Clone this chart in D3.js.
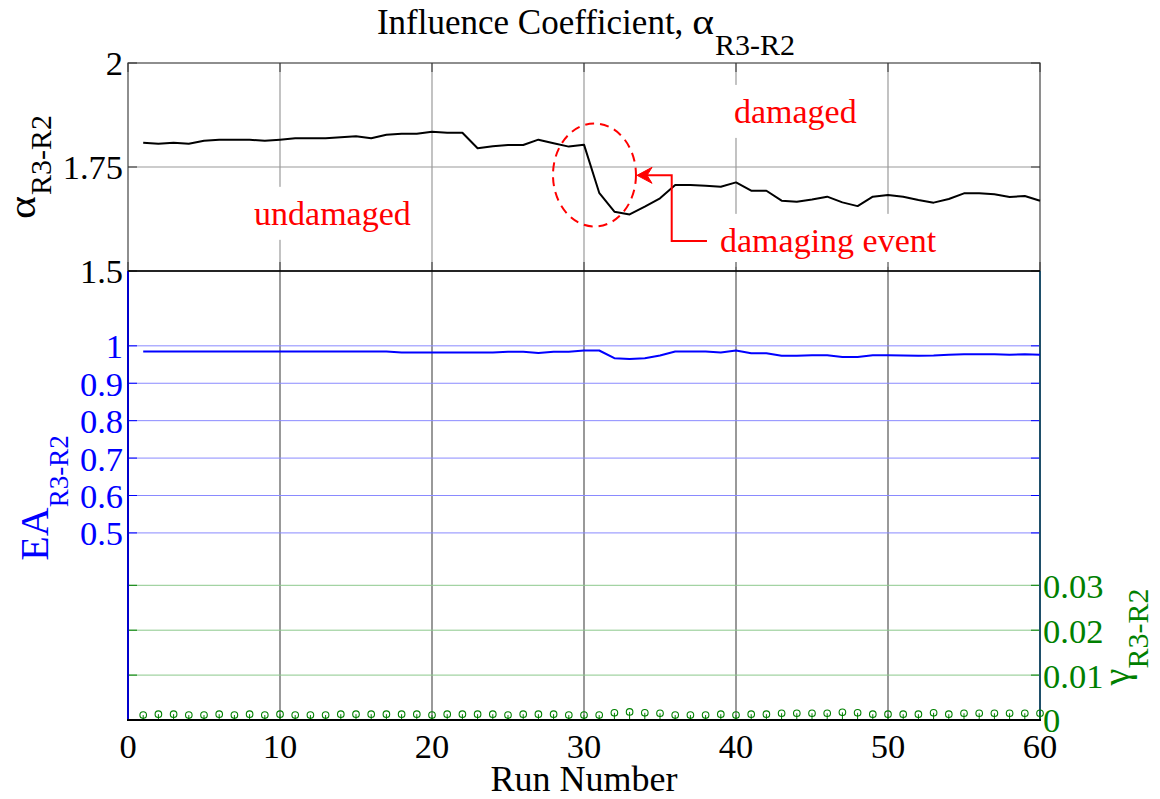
<!DOCTYPE html>
<html>
<head>
<meta charset="utf-8">
<script src="https://cdn.jsdelivr.net/npm/d3@7"></script>
<style>
  html, body { margin: 0; padding: 0; background: #fff; }
  svg { display: block; }
  text { font-family: "Liberation Serif", "Times New Roman", serif; }
</style>
</head>
<body>
<svg id="chart" width="1160" height="799"></svg>
<script>
// Run numbers 1..60
const runs = d3.range(1, 61);

// Influence coefficient alpha (R3-R2) per run
const alphaValues = [
  1.8085, 1.806, 1.8085, 1.806, 1.813, 1.8157, 1.8157, 1.8157, 1.813, 1.8157,
  1.819, 1.819, 1.819, 1.8213, 1.8237, 1.819, 1.8277, 1.830, 1.830, 1.835,
  1.8325, 1.8325, 1.795, 1.800, 1.803, 1.803, 1.8157, 1.807, 1.799, 1.8037,
  1.688, 1.6426, 1.636, 1.6546, 1.6746, 1.7067, 1.7067, 1.705, 1.7027, 1.713,
  1.693, 1.693, 1.669, 1.6667, 1.672, 1.6787, 1.665, 1.656, 1.6787, 1.6827,
  1.6787, 1.6707, 1.6643, 1.673, 1.6867, 1.6867, 1.6843, 1.678, 1.6803, 1.669
];

// EA (R3-R2) per run
const eaValues = [
  0.985, 0.985, 0.985, 0.985, 0.985, 0.985, 0.985, 0.985, 0.985, 0.985,
  0.985, 0.985, 0.985, 0.985, 0.985, 0.985, 0.985, 0.982, 0.982, 0.982,
  0.982, 0.982, 0.982, 0.982, 0.984, 0.984, 0.981, 0.984, 0.984, 0.9875,
  0.9875, 0.967, 0.9645, 0.967, 0.974, 0.985, 0.985, 0.985, 0.982, 0.9875,
  0.980, 0.980, 0.9735, 0.9735, 0.975, 0.975, 0.970, 0.970, 0.975, 0.975,
  0.974, 0.9735, 0.974, 0.976, 0.9775, 0.9775, 0.9775, 0.976, 0.9775, 0.976
];

// gamma (R3-R2) per run
const gammaValues = [
  0.0011, 0.0013, 0.0013, 0.0011, 0.0011, 0.0013, 0.0011, 0.0013, 0.0011, 0.0013,
  0.0011, 0.0011, 0.0011, 0.0013, 0.0013, 0.0013, 0.0013, 0.0013, 0.0013, 0.0011,
  0.0013, 0.0013, 0.0013, 0.0013, 0.0011, 0.0013, 0.0013, 0.0013, 0.0011, 0.0011,
  0.0011, 0.0016, 0.0018, 0.0016, 0.0015, 0.0011, 0.0011, 0.0011, 0.0013, 0.0011,
  0.0013, 0.0013, 0.0015, 0.0015, 0.0015, 0.0015, 0.0017, 0.0016, 0.0013, 0.0013,
  0.0013, 0.0013, 0.0016, 0.0013, 0.0015, 0.0015, 0.0015, 0.0015, 0.0015, 0.0015
];

// Tick labels
const xTicks = [0, 10, 20, 30, 40, 50, 60];
const alphaTicks = [1.5, 1.75, 2];
const eaTicks = [0.5, 0.6, 0.7, 0.8, 0.9, 1];
const gammaTicks = [0, 0.01, 0.02, 0.03];

const svg = d3.select("#chart");
const L = 128, R = 1040;
const topY0 = 63, midY = 271, botY = 720;

const x = d3.scaleLinear().domain([0, 60]).range([L, R]);
const yA = d3.scaleLinear().domain([1.5, 2]).range([midY, topY0]);
const yE = d3.scaleLinear().domain([0, 1.2]).range([botY, midY]);
const yG = d3.scaleLinear().domain([0, 0.1]).range([botY, midY]);

const BLUE = "#0000ff", GREEN = "#008000", RED = "#ff0000";
const TICK_FS = 34.5;

// ---------- grid ----------
const grid = svg.append("g");
grid.selectAll(".vgt").data(xTicks.slice(1, -1)).join("line")
  .attr("x1", d => x(d)).attr("x2", d => x(d))
  .attr("y1", topY0).attr("y2", midY)
  .attr("stroke", "#9a9a9a").attr("stroke-width", 1.2);
grid.append("line")
  .attr("x1", L).attr("x2", R).attr("y1", yA(1.75)).attr("y2", yA(1.75))
  .attr("stroke", "#9a9a9a").attr("stroke-width", 1.2);
grid.selectAll(".vgb").data(xTicks.slice(1, -1)).join("line")
  .attr("x1", d => x(d)).attr("x2", d => x(d))
  .attr("y1", midY).attr("y2", botY)
  .attr("stroke", "#555").attr("stroke-width", 1.2);
grid.selectAll(".eg").data(eaTicks).join("line")
  .attr("x1", L).attr("x2", R).attr("y1", d => yE(d)).attr("y2", d => yE(d))
  .attr("stroke", "#8a8aff").attr("stroke-width", 1);
grid.selectAll(".gg").data(gammaTicks.slice(1)).join("line")
  .attr("x1", L).attr("x2", R).attr("y1", d => yG(d)).attr("y2", d => yG(d))
  .attr("stroke", "#8cc88c").attr("stroke-width", 1);

// ---------- annotation labels with white boxes ----------
const notes = svg.append("g");
function label(text, xv, yv, anchor) {
  const g = notes.append("g");
  const rect = g.append("rect").attr("fill", "#fff");
  const t = g.append("text")
    .attr("x", x(xv)).attr("y", yA(yv))
    .attr("text-anchor", anchor)
    .attr("font-size", 34).attr("fill", RED).text(text);
  const b = t.node().getBBox();
  const p = 8;
  rect.attr("x", b.x - p).attr("y", b.y - p)
      .attr("width", b.width + 2 * p).attr("height", b.height + 2 * p);
}
label("undamaged", 13.45, 1.611, "middle");
label("damaged", 43.9, 1.856, "middle");
label("damaging event", 38.95, 1.546, "start");

// ---------- axes frames and ticks ----------
const frame = svg.append("g");
frame.append("rect").attr("x", L).attr("y", topY0).attr("width", R - L).attr("height", midY - topY0)
  .attr("fill", "none").attr("stroke", "#444").attr("stroke-width", 1.2);
alphaTicks.forEach(v => {
  frame.append("line").attr("x1", L).attr("x2", L + 9).attr("y1", yA(v)).attr("y2", yA(v)).attr("stroke", "#333");
  frame.append("line").attr("x1", R - 9).attr("x2", R).attr("y1", yA(v)).attr("y2", yA(v)).attr("stroke", "#333");
});
xTicks.forEach(v => {
  frame.append("line").attr("x1", x(v)).attr("x2", x(v)).attr("y1", topY0).attr("y2", topY0 + 9).attr("stroke", "#333");
  frame.append("line").attr("x1", x(v)).attr("x2", x(v)).attr("y1", midY - 9).attr("y2", midY).attr("stroke", "#333");
});
eaTicks.forEach(v => {
  frame.append("line").attr("x1", L).attr("x2", L + 9).attr("y1", yE(v)).attr("y2", yE(v)).attr("stroke", BLUE);
  frame.append("line").attr("x1", R - 9).attr("x2", R).attr("y1", yE(v)).attr("y2", yE(v)).attr("stroke", BLUE);
});
gammaTicks.slice(1).forEach(v => {
  frame.append("line").attr("x1", L).attr("x2", L + 9).attr("y1", yG(v)).attr("y2", yG(v)).attr("stroke", GREEN);
  frame.append("line").attr("x1", R - 9).attr("x2", R).attr("y1", yG(v)).attr("y2", yG(v)).attr("stroke", GREEN);
});

// ---------- data: alpha ----------
svg.append("path").datum(alphaValues)
  .attr("fill", "none").attr("stroke", "#000").attr("stroke-width", 2)
  .attr("stroke-linejoin", "round")
  .attr("d", d3.line().x((d, i) => x(runs[i])).y(d => yA(d)));

// ---------- data: EA ----------
svg.append("path").datum(eaValues)
  .attr("fill", "none").attr("stroke", BLUE).attr("stroke-width", 2)
  .attr("stroke-linejoin", "round")
  .attr("d", d3.line().x((d, i) => x(runs[i])).y(d => yE(d)));

// ---------- data: gamma stems ----------
const stems = svg.append("g");
stems.selectAll("line").data(gammaValues).join("line")
  .attr("x1", (d, i) => x(runs[i])).attr("x2", (d, i) => x(runs[i]))
  .attr("y1", yG(0)).attr("y2", d => yG(d))
  .attr("stroke", GREEN).attr("stroke-width", 1);
stems.selectAll("circle").data(gammaValues).join("circle")
  .attr("cx", (d, i) => x(runs[i])).attr("cy", d => yG(d))
  .attr("r", 3.3).attr("fill", "none").attr("stroke", GREEN).attr("stroke-width", 1.1);

// bottom panel edges
frame.append("line").attr("x1", L).attr("x2", L).attr("y1", midY).attr("y2", botY)
  .attr("stroke", "#0000cc").attr("stroke-width", 2);
frame.append("line").attr("x1", R).attr("x2", R).attr("y1", midY).attr("y2", botY)
  .attr("stroke", "#1f4f6a").attr("stroke-width", 2);
svg.append("line").attr("x1", L).attr("x2", R).attr("y1", midY).attr("y2", midY)
  .attr("stroke", "#000").attr("stroke-width", 1.5);
svg.append("line").attr("x1", L - 1).attr("x2", R + 1).attr("y1", botY).attr("y2", botY)
  .attr("stroke", "#000").attr("stroke-width", 2);

// ---------- ellipse + arrow ----------
const ann = svg.append("g");
ann.append("ellipse")
  .attr("cx", x(30.69)).attr("cy", yA(1.7308))
  .attr("rx", x(30.69 + 2.73) - x(30.69)).attr("ry", yA(1.7308) - yA(1.7308 + 0.1238))
  .attr("fill", "none").attr("stroke", RED).attr("stroke-width", 2)
  .attr("stroke-dasharray", "9,6");
const arrowPts = [[38.09, 1.572], [35.77, 1.572], [35.77, 1.730], [33.75, 1.730]];
ann.append("path")
  .attr("d", d3.line().x(d => x(d[0])).y(d => yA(d[1]))(arrowPts))
  .attr("fill", "none").attr("stroke", RED).attr("stroke-width", 2);
{
  const tx = x(33.49), ty = yA(1.730);
  ann.append("path")
    .attr("d", `M${tx},${ty} L${tx + 15},${ty - 8} L${tx + 10},${ty} L${tx + 15},${ty + 8} Z`)
    .attr("fill", RED).attr("stroke", RED).attr("stroke-width", 1);
}

// ---------- tick labels ----------
const labels = svg.append("g").attr("font-size", TICK_FS);
labels.selectAll(".xt").data(xTicks).join("text")
  .attr("x", d => x(d)).attr("y", 758).attr("text-anchor", "middle").attr("fill", "#000")
  .text(d => d);
labels.selectAll(".at").data(alphaTicks).join("text")
  .attr("x", L - 5).attr("y", d => yA(d)).attr("dy", "0.36em").attr("text-anchor", "end").attr("fill", "#000")
  .text(d => d);
labels.selectAll(".et").data(eaTicks).join("text")
  .attr("x", L - 5).attr("y", d => yE(d)).attr("dy", "0.36em").attr("text-anchor", "end").attr("fill", BLUE)
  .text(d => d);
labels.selectAll(".gt").data(gammaTicks).join("text")
  .attr("x", R + 3).attr("y", d => yG(d)).attr("dy", "0.36em").attr("text-anchor", "start").attr("fill", GREEN)
  .text(d => d);

// ---------- composite labels (symbol + subscript) ----------
// parts: {t, fs, dy, sx, gap}; laid out left to right around (0,0), centred.
function composite(g, parts, color) {
  let cursor = 0;
  const nodes = parts.map(p => {
    const t = g.append("text").attr("font-size", p.fs).attr("fill", color).text(p.t);
    const w = t.node().getComputedTextLength() * (p.sx || 1);
    const item = { t, p, x: cursor };
    cursor += w + (p.gap || 0);
    return item;
  });
  const total = cursor;
  nodes.forEach(n => {
    n.t.attr("transform", `translate(${n.x - total / 2},${n.p.dy || 0}) scale(${n.p.sx || 1},1)`);
  });
}

composite(svg.append("g").attr("transform", "translate(586,34)"), [
  { t: "Influence Coefficient,", fs: 35, gap: 9 },
  { t: "α", fs: 36, sx: 1.15, gap: 1 },
  { t: "R3-R2", fs: 30, dy: 21 }
], "#000");

svg.append("text").attr("x", 584).attr("y", 791).attr("text-anchor", "middle")
  .attr("font-size", 36).attr("fill", "#000").text("Run Number");

composite(svg.append("g").attr("transform", "translate(35,167) rotate(-90)"), [
  { t: "α", fs: 38, sx: 1.15, gap: 1 },
  { t: "R3-R2", fs: 30, dy: 16 }
], "#000");
composite(svg.append("g").attr("transform", "translate(48,498) rotate(-90)"), [
  { t: "EA", fs: 40 },
  { t: "R3-R2", fs: 27, dy: 20 }
], BLUE);
composite(svg.append("g").attr("transform", "translate(1129,637) rotate(-90)"), [
  { t: "γ", fs: 38 },
  { t: "R3-R2", fs: 30, dy: 19 }
], GREEN);
</script>
</body>
</html>
